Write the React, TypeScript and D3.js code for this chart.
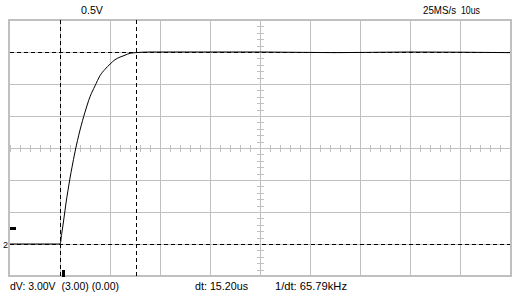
import React from "react";
import * as d3 from "d3";

// time in microseconds (10 us/div), voltage in volts (0.5 V/div, ch2 ground = 0 V)
const traceTime = [0, 5, 10, 10.4, 10.8, 11.2, 11.6, 12, 12.4, 13, 14, 15, 16, 17, 18, 19, 20, 21, 22, 23, 24, 25.2, 28, 35, 50, 65, 80, 100];
const traceVolts = [0, 0, 0, 0.19, 0.41, 0.64, 0.84, 1.03, 1.2, 1.44, 1.78, 2.06, 2.3, 2.47, 2.63, 2.73, 2.81, 2.88, 2.92, 2.95, 2.98, 2.99, 3.0, 3.0, 3.0, 2.99, 3.0, 2.99];

const timeCursors = [10, 25.2];
const voltCursors = [0, 3.0];
const timeGrid = [10, 20, 30, 40, 50, 60, 70, 80, 90];
const voltGrid = [0, 0.5, 1, 1.5, 2, 2.5, 3];

const topLabels = [
  { text: "0.5V", t: 14.2, w: 22 },
  { text: "25MS/s", t: 82.6, w: 33 },
  { text: "10us", t: 90.2, w: 19 },
];
const bottomLabels = [
  { text: "dV: 3.00V  (3.00) (0.00)", t: 0, w: 109 },
  { text: "dt: 15.20us", t: 37, w: 53 },
  { text: "1/dt: 65.79kHz", t: 53, w: 72 },
];
const channelLabel = "2";
const triggerLevel = 0.25;
const triggerTime = 10.3;

const W = 522;
const H = 299;

export default function App() {
  const x = d3.scaleLinear().domain([0, 100]).range([10, 510]);
  const y = d3.scaleLinear().domain([-0.5, 3.5]).range([276, 20]);

  const line = d3
    .line<number>()
    .x((_, i) => x(traceTime[i]))
    .y((v) => y(v))
    .curve(d3.curveMonotoneX);

  const gridColor = "#c0c0c0";
  const font = "'Liberation Sans', Arial, sans-serif";

  const xTicks = d3.range(0, 100.001, 2);
  const yTicks = d3.range(-0.5, 3.5001, 0.1);

  return (
    <svg
      width={W}
      height={H}
      style={{ position: "absolute", left: 0, top: 0, background: "#fff" }}
    >
      <rect x={0} y={0} width={W} height={H} fill="#fff" />
      <g shapeRendering="crispEdges">
        {timeGrid.map((t) => (
          <line key={"vx" + t} x1={x(t) + 0.5} x2={x(t) + 0.5} y1={y(3.5)} y2={y(-0.5)} stroke={gridColor} strokeWidth={1} />
        ))}
        {voltGrid.map((v) => (
          <line key={"hy" + v} x1={x(0)} x2={x(100)} y1={y(v) + 0.5} y2={y(v) + 0.5} stroke={gridColor} strokeWidth={1} />
        ))}
        {xTicks.map((t) => (
          <line key={"tx" + t} x1={x(t) + 0.5} x2={x(t) + 0.5} y1={y(1.5) - 3} y2={y(1.5) + 4} stroke={gridColor} strokeWidth={1} />
        ))}
        {yTicks.map((v) => (
          <line key={"ty" + v} x1={x(50) - 3} x2={x(50) + 4} y1={Math.round(y(v)) + 0.5} y2={Math.round(y(v)) + 0.5} stroke={gridColor} strokeWidth={1} />
        ))}
        <rect x={x(0) - 1} y={y(3.5)} width={x(100) - x(0) + 2} height={y(-0.5) - y(3.5)} fill="none" stroke={gridColor} strokeWidth={2} />
      </g>
      <path d={line(traceVolts) || ""} fill="none" stroke="#000" strokeWidth={1} />
      <g shapeRendering="crispEdges">
        {timeCursors.map((t) => (
          <line key={"ct" + t} x1={Math.round(x(t)) + 0.5} x2={Math.round(x(t)) + 0.5} y1={y(3.5)} y2={y(-0.5)} stroke="#000" strokeWidth={1} strokeDasharray="4,3" />
        ))}
        {voltCursors.map((v) => (
          <line key={"cv" + v} x1={x(0)} x2={x(100)} y1={y(v) + 0.5} y2={y(v) + 0.5} stroke="#000" strokeWidth={1} strokeDasharray="4,3" />
        ))}
        <rect x={x(0)} y={Math.round(y(triggerLevel)) - 1} width={6} height={3} fill="#000" />
        <rect x={Math.round(x(triggerTime))} y={y(-0.5) - 6} width={3} height={7} fill="#000" />
      </g>
      <text x={x(0) - 2} y={y(0) + 4} fontSize={9} fontFamily={font} textAnchor="end" fill="#000">{channelLabel}</text>
      {topLabels.map((l) => (
        <text key={l.text} x={x(l.t)} y={13.5} fontSize={11} fontFamily={font} fill="#000" textLength={l.w} lengthAdjust="spacingAndGlyphs">{l.text}</text>
      ))}
      {bottomLabels.map((l) => (
        <text key={l.text} x={x(l.t)} y={290} fontSize={11} fontFamily={font} fill="#000" style={{ whiteSpace: "pre" }} textLength={l.w} lengthAdjust="spacingAndGlyphs">{l.text}</text>
      ))}
    </svg>
  );
}
